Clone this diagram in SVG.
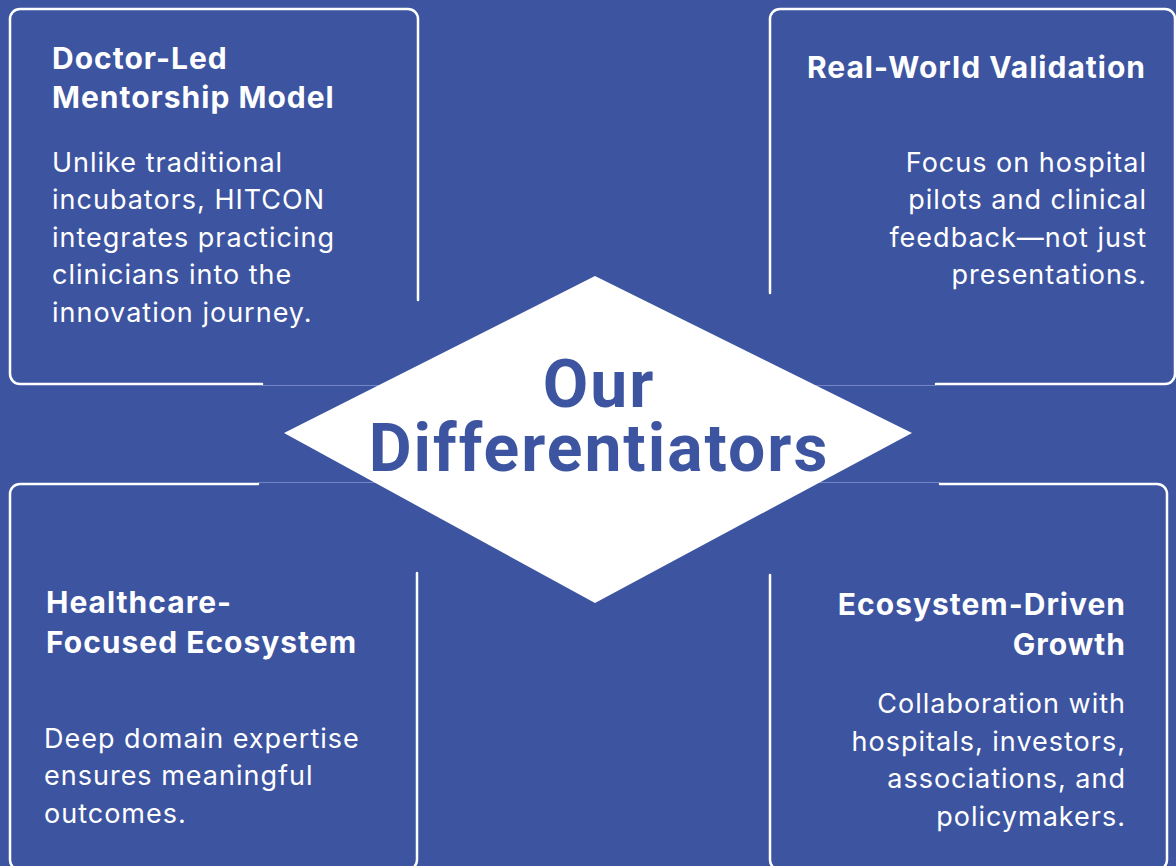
<svg xmlns="http://www.w3.org/2000/svg" width="1176" height="866" viewBox="0 0 1176 866">
<style>
.bg{fill:#3D54A0}
.brd{fill:none;stroke:#ffffff;stroke-width:2.5;stroke-linecap:round}
.thin{fill:none;stroke:#7385C4;stroke-width:1}
.t{font-family:Inter,"Noto Sans",sans-serif;font-weight:700;font-size:30px;letter-spacing:1px;fill:#ffffff}
.b{font-family:Inter,"Noto Sans",sans-serif;font-weight:400;font-size:27px;letter-spacing:1px;fill:#ffffff}
.r{text-anchor:end}
.c{font-family:Roboto,"Liberation Sans",sans-serif;font-weight:700;font-size:66px;letter-spacing:2px;fill:#3D54A0;text-anchor:middle}
</style>
<rect class="bg" x="0" y="0" width="1176" height="866"/>
<g id="connectors">
<line class="thin" x1="262" y1="385.5" x2="936" y2="385.5"/>
<line class="thin" x1="258" y1="482.5" x2="940" y2="482.5"/>
</g>
<g id="node-tl">
<path class="brd" d="M418,300 V19 A10,10 0 0 0 408,9 H20 A10,10 0 0 0 10,19 V374 A10,10 0 0 0 20,384 H262"/>
<text class="t" x="52" y="69">Doctor-Led</text>
<text class="t" x="52" y="108">Mentorship Model</text>
<text class="b" x="52" y="172">Unlike traditional</text>
<text class="b" x="52" y="209">incubators, HITCON</text>
<text class="b" x="52" y="247">integrates practicing</text>
<text class="b" x="52" y="284">clinicians into the</text>
<text class="b" x="52" y="322">innovation journey.</text>
</g>
<g id="node-tr">
<path class="brd" d="M770,293 V19 A10,10 0 0 1 780,9 H1165 A10,10 0 0 1 1175,19 V374 A10,10 0 0 1 1165,384 H936"/>
<text class="t r" x="1146" y="78">Real-World Validation</text>
<text class="b r" x="1147" y="172">Focus on hospital</text>
<text class="b r" x="1147" y="209">pilots and clinical</text>
<text class="b r" x="1147" y="247">feedback—not just</text>
<text class="b r" x="1147" y="284">presentations.</text>
</g>
<g id="node-bl">
<path class="brd" d="M258,484 H20 A10,10 0 0 0 10,494 V860 A10,10 0 0 0 20,870 H407 A10,10 0 0 0 417,860 V573"/>
<text class="t" x="46" y="613">Healthcare-</text>
<text class="t" x="46" y="653">Focused Ecosystem</text>
<text class="b" x="44" y="748">Deep domain expertise</text>
<text class="b" x="44" y="785">ensures meaningful</text>
<text class="b" x="44" y="823">outcomes.</text>
</g>
<g id="node-br">
<path class="brd" d="M940,484 H1157 A10,10 0 0 1 1167,494 V860 A10,10 0 0 1 1157,870 H780 A10,10 0 0 1 770,860 V575"/>
<text class="t r" x="1126" y="615">Ecosystem-Driven</text>
<text class="t r" x="1126" y="655">Growth</text>
<text class="b r" x="1126" y="713">Collaboration with</text>
<text class="b r" x="1126" y="751">hospitals, investors,</text>
<text class="b r" x="1126" y="788">associations, and</text>
<text class="b r" x="1126" y="826">policymakers.</text>
</g>
<g id="node-center">
<polygon points="284,433 595,276 912,433 595,603" fill="#ffffff"/>
<text class="c" x="599" y="407">Our</text>
<text class="c" x="599" y="471">Differentiators</text>
</g>
</svg>
